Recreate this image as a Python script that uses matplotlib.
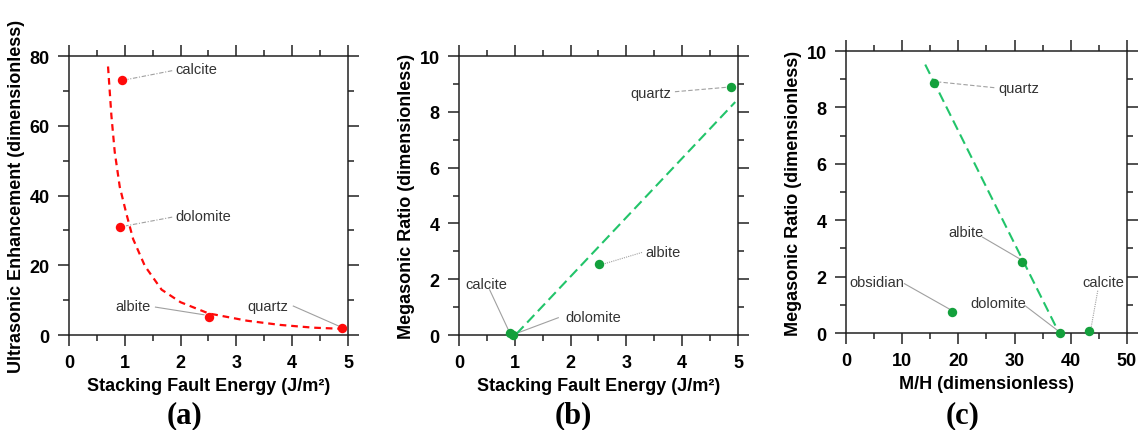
import matplotlib
matplotlib.use("Agg")
import matplotlib.pyplot as plt
from matplotlib.ticker import MultipleLocator

plt.rcParams['font.family'] = ['Liberation Sans', 'DejaVu Sans']

# panel (a): ultrasonic enhancement vs stacking fault energy
a_names = ["calcite", "dolomite", "albite", "quartz"]
a_sfe = [0.95, 0.92, 2.51, 4.89]
a_enh = [73.1, 30.9, 5.1, 2.0]
# dashed fit curve
a_fit_x = [0.70, 0.76, 0.82, 0.91, 1.03, 1.15, 1.36, 1.66, 2.00, 2.50, 3.19, 3.78, 4.38, 4.85]
a_fit_y = [77.0, 63.0, 52.5, 42.5, 34.7, 27.5, 19.8, 13.0, 9.4, 6.2, 4.1, 2.9, 2.1, 1.8]

# panel (b): megasonic ratio vs stacking fault energy
b_names = ["calcite", "dolomite", "albite", "quartz"]
b_sfe = [0.92, 0.96, 2.51, 4.88]
b_ratio = [0.06, 0.0, 2.54, 8.89]
b_fit_x = [1.03, 4.95]
b_fit_y = [0.04, 8.35]

# panel (c): megasonic ratio vs M/H
c_names = ["quartz", "albite", "obsidian", "dolomite", "calcite"]
c_mh = [15.7, 31.4, 18.9, 38.0, 43.3]
c_ratio = [8.88, 2.52, 0.75, 0.0, 0.06]
c_fit_x = [14.1, 37.8]
c_fit_y = [9.52, 0.05]

# label layout: text left x, text y, leader start, leader end, leader style
a_labels = {
    "calcite": (1.91, 76.2, (1.85, 75.8), (1.05, 73.3), (0, (4, 1.5, 1, 1.5))),
    "dolomite": (1.91, 34.2, (1.85, 33.8), (1.02, 31.3), (0, (4, 1.5, 1, 1.5))),
    "albite": (0.83, 8.2, (1.55, 8.0), (2.42, 5.8), "-"),
    "quartz": (3.19, 8.4, (4.02, 8.3), (4.83, 2.6), "-"),
}
b_labels = {
    "quartz": (3.07, 8.69, (3.87, 8.72), (4.80, 8.88), (0, (4, 2))),
    "albite": (3.34, 2.96, (3.28, 2.96), (2.60, 2.55), (0, (1, 1))),
    "calcite": (0.12, 1.83, (0.55, 1.62), (0.90, 0.12), "-"),
    "dolomite": (1.91, 0.63, (1.78, 0.62), (1.02, 0.05), "-"),
}
c_labels = {
    "quartz": (27.1, 8.69, (26.4, 8.7), (16.6, 8.9), (0, (4, 2))),
    "albite": (18.3, 3.58, (24.3, 3.4), (31.0, 2.62), "-"),
    "obsidian": (0.6, 1.81, (10.4, 1.75), (18.4, 0.85), "-"),
    "dolomite": (22.2, 1.08, (31.8, 0.98), (37.6, 0.1), "-"),
    "calcite": (42.1, 1.81, (44.8, 1.5), (43.6, 0.17), (0, (1, 1))),
}

red = "#ff0a0a"
green_pt = "#13a03c"
green_ln = "#22c46a"
ink = "#222222"

fig = plt.figure(figsize=(11.38, 4.31), dpi=100)
ax_a = fig.add_axes([0.0606, 0.2204, 0.2452, 0.6473])
ax_b = fig.add_axes([0.4033, 0.2204, 0.2452, 0.6473])
ax_c = fig.add_axes([0.7434, 0.2250, 0.2469, 0.6543])


def style(ax, xlim, ylim, xmaj, xmin, ymaj, ymin, xlabel, ylabel):
    ax.set_xlim(*xlim)
    ax.set_ylim(*ylim)
    ax.xaxis.set_major_locator(MultipleLocator(xmaj))
    ax.xaxis.set_minor_locator(MultipleLocator(xmin))
    ax.yaxis.set_major_locator(MultipleLocator(ymaj))
    ax.yaxis.set_minor_locator(MultipleLocator(ymin))
    ax.tick_params(which="both", direction="out", top=True, right=True,
                   labeltop=False, labelright=False, color=ink, width=1.1)
    ax.tick_params(which="major", length=8, pad=6, labelsize=13)
    ax.tick_params(which="minor", length=4)
    for lab in ax.get_xticklabels() + ax.get_yticklabels():
        lab.set_fontweight("bold")
    for sp in ax.spines.values():
        sp.set_color(ink)
        sp.set_linewidth(1.1)
    ax.set_xlabel(xlabel, fontsize=13, fontweight="bold", labelpad=4)
    ax.set_ylabel(ylabel, fontsize=13, fontweight="bold", labelpad=3)


def label_points(ax, labels):
    for name, (tx, ty, p0, p1, ls) in labels.items():
        ax.text(tx, ty, name, fontsize=10.5, color="#333333", ha="left", va="center")
        ax.plot([p0[0], p1[0]], [p0[1], p1[1]], color="#a0a0a0", lw=0.8,
                linestyle=ls, zorder=1)


# (a)
ax_a.plot(a_fit_x, a_fit_y, color=red, lw=1.6, linestyle=(0, (3, 2.2)), zorder=2)
ax_a.scatter(a_sfe, a_enh, s=46, color=red, zorder=3, linewidths=0)
label_points(ax_a, a_labels)
style(ax_a, (0, 5), (0, 80), 1, 0.5, 20, 10,
      "Stacking Fault Energy (J/m²)", "Ultrasonic Enhancement (dimensionless)")

# (b)
ax_b.plot(b_fit_x, b_fit_y, color=green_ln, lw=1.5, linestyle=(0, (5, 2.5)), zorder=2)
ax_b.scatter(b_sfe, b_ratio, s=46, color=green_pt, zorder=3, linewidths=0, clip_on=False)
label_points(ax_b, b_labels)
style(ax_b, (0, 5), (0, 10), 1, 0.5, 2, 1,
      "Stacking Fault Energy (J/m²)", "Megasonic Ratio (dimensionless)")

# (c)
ax_c.plot(c_fit_x, c_fit_y, color=green_ln, lw=1.5, linestyle=(0, (5, 2.5)), zorder=2)
ax_c.scatter(c_mh, c_ratio, s=46, color=green_pt, zorder=3, linewidths=0, clip_on=False)
label_points(ax_c, c_labels)
style(ax_c, (0, 50), (0, 10), 10, 5, 2, 1,
      "M/H (dimensionless)", "Megasonic Ratio (dimensionless)")

for txt, xc in [("(a)", 184), ("(b)", 573), ("(c)", 963)]:
    fig.text(xc / 1138, 1 - 416 / 431, txt, fontsize=22, fontweight="bold",
             family="Liberation Serif", ha="center", va="center")

fig.savefig("out.png", dpi=100)
